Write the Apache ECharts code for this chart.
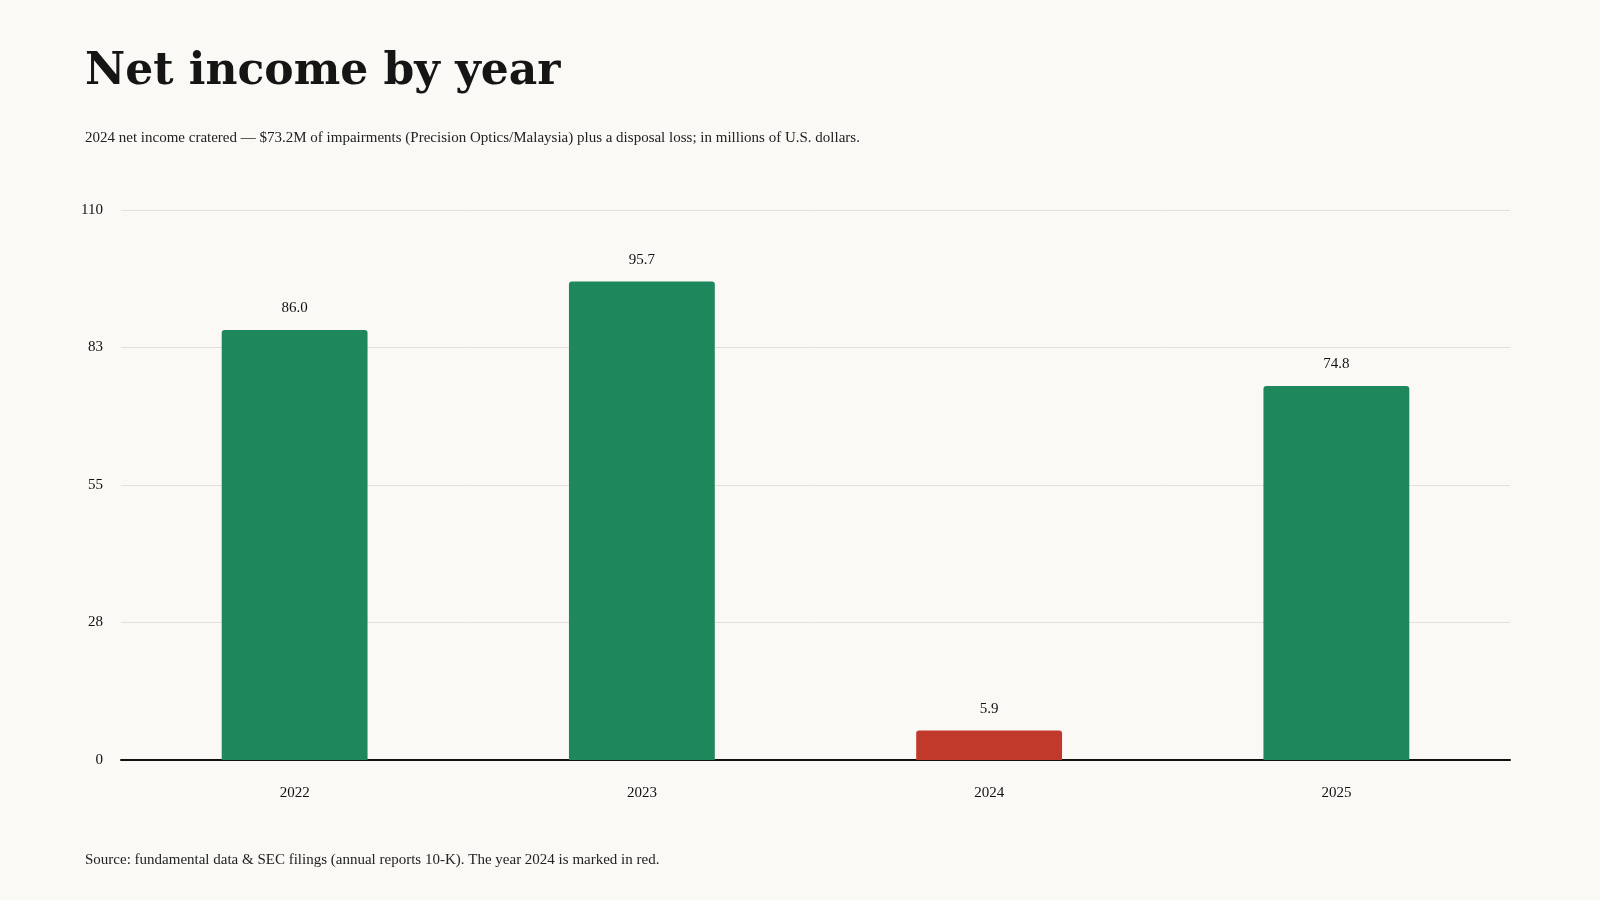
<!DOCTYPE html>
<html>
<head>
<meta charset="utf-8">
<script src="https://cdn.jsdelivr.net/npm/echarts@6/dist/echarts.min.js"></script>
<style>
  html, body { margin: 0; padding: 0; background: #faf9f5; }
  #chart { width: 1600px; height: 900px; }
</style>
</head>
<body>
<div id="chart"></div>
<script>
var years = ['2022', '2023', '2024', '2025'];
var netIncome = [86.0, 95.7, 5.9, 74.8];
var highlightYear = '2024';

var green = '#1f875c';
var red = '#c0392b';
var serif = '"Liberation Serif", "DejaVu Serif", serif';

var myChart = echarts.init(document.getElementById('chart'));

myChart.setOption({
  backgroundColor: '#faf9f5',
  animation: false,
  title: [
    {
      text: 'Net income by year',
      left: 80, top: 46,
      textStyle: { fontFamily: '"DejaVu Serif", serif', fontWeight: 900, fontSize: 44, color: '#151515' }
    },
    {
      text: '2024 net income cratered — $73.2M of impairments (Precision Optics/Malaysia) plus a disposal loss; in millions of U.S. dollars.',
      left: 80, top: 126,
      textStyle: { fontFamily: serif, fontWeight: 'normal', fontSize: 15, color: '#222' }
    },
    {
      text: 'Source: fundamental data & SEC filings (annual reports 10-K). The year 2024 is marked in red.',
      left: 80, top: 848,
      textStyle: { fontFamily: serif, fontWeight: 'normal', fontSize: 15, color: '#222' }
    }
  ],
  grid: { left: 121, right: 90, top: 210, bottom: 140 },
  xAxis: {
    type: 'category',
    data: years,
    axisLine: { lineStyle: { color: '#111', width: 2 } },
    axisTick: { show: false },
    axisLabel: { fontFamily: serif, fontSize: 15, color: '#111', margin: 26 }
  },
  yAxis: {
    type: 'value',
    min: 0, max: 110, interval: 27.5,
    axisLine: { show: false },
    axisTick: { show: false },
    splitLine: { lineStyle: { color: '#e2e0d8' } },
    axisLabel: {
      fontFamily: serif, fontSize: 15, color: '#111', margin: 18,
      formatter: function (v) { return Math.round(v); }
    }
  },
  series: [{
    type: 'bar',
    barWidth: '42%',
    data: netIncome.map(function (v, i) {
      return {
        value: v,
        itemStyle: { color: years[i] === highlightYear ? red : green, borderRadius: [3, 3, 0, 0] }
      };
    }),
    label: {
      show: true, position: 'top', distance: 14,
      fontFamily: serif, fontSize: 15, color: '#111',
      formatter: function (p) { return p.value.toFixed(1); }
    }
  }]
});
</script>
</body>
</html>
